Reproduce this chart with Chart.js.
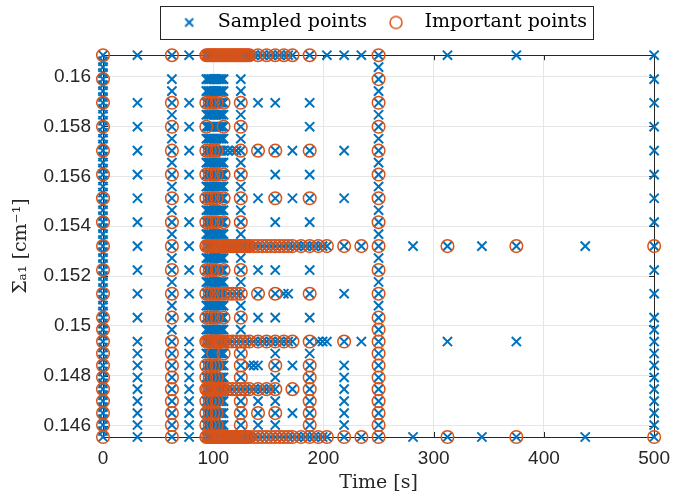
<!DOCTYPE html>
<html>
<head>
<meta charset="utf-8">
<script src="https://cdn.jsdelivr.net/npm/chart.js@4.4.1/dist/chart.umd.min.js"></script>
<style>
  html, body { margin: 0; padding: 0; background: #fff; }
</style>
</head>
<body>
<canvas id="chart" width="680" height="502"></canvas>
<script>
// grid rows of the parameter (fine levels, index k = 0..32)
const yLevels = [0.14554, 0.14602, 0.14650, 0.14698, 0.14746, 0.14793, 0.14841, 0.14889, 0.14937, 0.14985,
  0.15033, 0.15081, 0.15129, 0.15176, 0.15224, 0.15272, 0.15320, 0.15368, 0.15416, 0.15464,
  0.15512, 0.15559, 0.15607, 0.15655, 0.15703, 0.15751, 0.15799, 0.15847, 0.15895, 0.15942,
  0.15990, 0.16038, 0.16086];
// extra levels sampled only at t = 0
const yHalf = [0.14578, 0.14626, 0.14674, 0.14722, 0.14769, 0.14817, 0.14865, 0.14913, 0.14961, 0.15009,
  0.15057, 0.15105, 0.15152, 0.15200, 0.15248, 0.15296, 0.15344, 0.15392, 0.15440, 0.15488,
  0.15535, 0.15583, 0.15631, 0.15679, 0.15727, 0.15775, 0.15823, 0.15871, 0.15918, 0.15966,
  0.16014, 0.16062];

const xTicks = [0, 100, 200, 300, 400, 500];
const yTicks = [0.146, 0.148, 0.15, 0.152, 0.154, 0.156, 0.158, 0.16];

// time columns sampled on (almost) every row
const denseCols = [93.75, 95.3125, 96.875, 98.4375, 100, 101.5625, 103.125, 104.6875, 106.25, 107.8125];
const lineCols = [0, 62.5, ...denseCols, 109.375, 125, 250];
const gapRows = [31];
const sideCols = [31.25, 78.125];
const sideRows = [0, 1, 2, 3, 4, 5, 6, 7, 8, 10, 12, 14, 16, 18, 20, 22, 24, 26, 28, 32];
const edgeCol = 500;
const edgeRows = [0, 1, 2, 3, 4, 5, 6, 7, 8, 9, 10, 12, 14, 16, 18, 20, 22, 24, 26, 28, 30, 32];

// pieces of rows
const D4 = [93.75, 96.875, 100, 103.125];
const fineD = [93.75, 95.3125, 96.875, 98.4375, 100, 101.5625, 103.125, 104.6875, 106.25, 107.8125, 109.375];
const fineRun = [...fineD, 110.9375, 112.5, 114.0625, 115.625, 117.1875, 118.75, 120.3125, 121.875,
  123.4375, 125, 126.5625, 128.125, 129.6875, 131.25, 132.8125];
const midRun = [113.28125, 117.1875, 121.09375, 125, 128.90625, 132.8125];
const coarseRun = [140.625, 148.4375, 156.25, 164.0625, 171.875];
const coarseGaps = [136.71875, 144.53125, 152.34375, 160.15625, 167.96875];

const longImportant = [0, 62.5, ...fineRun, 136.71875, 140.625, 144.53125, 148.4375, 152.34375, 156.25,
  160.15625, 164.0625, 167.96875, 171.875, 179.6875, 187.5, 195.3125, 203.125, 218.75, 234.375, 250,
  312.5, 375, 500];
const longSampled = [175.78125, 183.59375, 191.40625, 199.21875, 281.25, 343.75, 437.5];

// important (circled) times per row
const importantByRow = [
  longImportant,                                                        // 0
  [0, 62.5, ...D4, 125, 187.5, 250],                                    // 1
  [0, 62.5, ...D4, 125, 140.625, 156.25, 187.5, 250],                   // 2
  [0, 62.5, ...D4, 125, 187.5, 250],                                    // 3
  [0, 62.5, ...fineD, ...midRun, 140.625, 148.4375, 156.25, 171.875, 187.5, 250], // 4
  [0, 62.5, ...D4, 125, 187.5, 250],                                    // 5
  [0, 62.5, ...D4, 125, 156.25, 187.5, 250],                            // 6
  [0, 62.5, 100, 109.375, 125, 250],                                    // 7
  [0, 62.5, ...fineD, ...midRun, ...coarseRun, 187.5, 218.75, 250],     // 8
  [0, 250],                                                             // 9
  [0, 62.5, ...D4, 109.375, 125, 250],                                  // 10
  [],                                                                   // 11
  [0, 62.5, ...D4, 106.25, 109.375, 113.28125, 117.1875, 121.09375, 125, 140.625, 156.25, 187.5, 250], // 12
  [],                                                                   // 13
  [0, 62.5, ...D4, 109.375, 125, 250],                                  // 14
  [],                                                                   // 15
  longImportant,                                                        // 16
  [],                                                                   // 17
  [0, 62.5, ...D4, 109.375, 125, 250],                                  // 18
  [],                                                                   // 19
  [0, 62.5, ...D4, 109.375, 125, 156.25, 187.5, 250],                   // 20
  [],                                                                   // 21
  [0, 62.5, ...D4, 109.375, 125, 250],                                  // 22
  [],                                                                   // 23
  [0, 62.5, ...D4, 125, 140.625, 156.25, 187.5, 250],                   // 24
  [],                                                                   // 25
  [0, 62.5, 93.75, 109.375, 125, 250],                                  // 26
  [],                                                                   // 27
  [0, 62.5, ...D4, 109.375, 125, 250],                                  // 28
  [],                                                                   // 29
  [0, 250],                                                             // 30
  [],                                                                   // 31
  [0, 62.5, ...fineRun, ...coarseRun, 187.5, 250]                       // 32
];

// other sampled times per row (besides the columns above)
const sampledByRow = [
  longSampled,                                        // 0
  [140.625, 156.25, 218.75],                          // 1
  [171.875, 218.75],                                  // 2
  [140.625, 156.25, 218.75],                          // 3
  [136.71875, 144.53125, 152.34375, 218.75],          // 4
  [156.25, 218.75],                                   // 5
  [132.8125, 136.71875, 140.625, 171.875, 218.75],    // 6
  [156.25, 187.5],                                    // 7
  [...coarseGaps, 195.3125, 199.21875, 203.125, 234.375, 312.5, 375], // 8
  [],                                                 // 9
  [140.625, 156.25, 187.5],                           // 10
  [],                                                 // 11
  [164.0625, 167.96875, 218.75],                      // 12
  [],                                                 // 13
  [140.625, 156.25, 187.5],                           // 14
  [],                                                 // 15
  longSampled,                                        // 16
  [],                                                 // 17
  [156.25, 187.5],                                    // 18
  [],                                                 // 19
  [140.625, 171.875, 218.75],                         // 20
  [],                                                 // 21
  [156.25, 187.5],                                    // 22
  [],                                                 // 23
  [113.28125, 117.1875, 121.09375, 171.875, 218.75],  // 24
  [],                                                 // 25
  [187.5],                                            // 26
  [],                                                 // 27
  [140.625, 156.25, 187.5],                           // 28
  [],                                                 // 29
  [],                                                 // 30
  [0, 250],                                           // 31
  [...coarseGaps, 203.125, 218.75, 234.375, 312.5, 375] // 32
];

const blue = '#0072BD';
const orange = '#D95319';

const sampled = [];
const important = [];
for (let k = 0; k < yLevels.length; k++) {
    const xs = new Set();
    if (!gapRows.includes(k)) lineCols.forEach(x => xs.add(x));
    if (sideRows.includes(k)) sideCols.forEach(x => xs.add(x));
    if (edgeRows.includes(k)) xs.add(edgeCol);
    sampledByRow[k].forEach(x => xs.add(x));
    importantByRow[k].forEach(x => xs.add(x));
    xs.forEach(x => sampled.push({x: x, y: yLevels[k]}));
    importantByRow[k].forEach(x => important.push({x: x, y: yLevels[k]}));
}
yHalf.forEach(y => sampled.push({x: 0, y: y}));

// legend marks
function makeIcon(draw) {
    const c = document.createElement('canvas');
    c.width = 18; c.height = 18;
    draw(c.getContext('2d'));
    return c;
}
const crossIcon = makeIcon(g => {
    g.strokeStyle = blue; g.lineWidth = 2;
    g.beginPath();
    g.moveTo(5, 5); g.lineTo(13, 13);
    g.moveTo(13, 5); g.lineTo(5, 13);
    g.stroke();
});
const circleIcon = makeIcon(g => {
    g.strokeStyle = orange; g.lineWidth = 1.5;
    g.beginPath();
    g.arc(9, 9, 6, 0, Math.PI * 2);
    g.stroke();
});
const icons = [crossIcon, circleIcon];

const axesBox = {
    id: 'axesBox',
    beforeDatasetsDraw(chart) {
        const {ctx, chartArea: a, scales: {x, y}} = chart;
        ctx.save();
        ctx.strokeStyle = '#262626';
        ctx.lineWidth = 1;
        ctx.strokeRect(Math.round(a.left) + 0.5, Math.round(a.top) + 0.5,
            Math.round(a.right - a.left), Math.round(a.bottom - a.top));
        ctx.beginPath();
        xTicks.forEach(v => {
            const px = Math.round(x.getPixelForValue(v)) + 0.5;
            ctx.moveTo(px, a.bottom); ctx.lineTo(px, a.bottom - 5);
            ctx.moveTo(px, a.top); ctx.lineTo(px, a.top + 5);
        });
        yTicks.forEach(v => {
            const py = Math.round(y.getPixelForValue(v)) + 0.5;
            ctx.moveTo(a.left, py); ctx.lineTo(a.left + 5, py);
            ctx.moveTo(a.right, py); ctx.lineTo(a.right - 5, py);
        });
        ctx.stroke();
        ctx.restore();
    },
    afterDraw(chart) {
        const boxes = chart.legend.legendHitBoxes;
        if (!boxes || !boxes.length) return;
        const first = boxes[0], last = boxes[boxes.length - 1];
        const ctx = chart.ctx;
        ctx.save();
        ctx.strokeStyle = '#262626';
        ctx.lineWidth = 1;
        const left = Math.round(first.left - 10) + 0.5;
        const right = Math.round(last.left + last.width + 6) + 0.5;
        const top = Math.round(first.top - 7) + 0.5;
        const bottom = Math.round(first.top + first.height + 7) + 0.5;
        ctx.strokeRect(left, top, right - left, bottom - top);
        ctx.restore();
    }
};

new Chart(document.getElementById('chart'), {
    type: 'scatter',
    data: {
        datasets: [{
            label: 'Sampled points',
            data: sampled,
            order: 1,
            pointStyle: 'crossRot',
            pointRadius: 6.5,
            pointBorderWidth: 2,
            pointBorderColor: blue,
            pointBackgroundColor: blue,
            clip: false
        }, {
            label: 'Important points',
            data: important,
            order: 0,
            pointStyle: 'circle',
            pointRadius: 6.3,
            pointBorderWidth: 1.5,
            pointBorderColor: orange,
            pointBackgroundColor: 'rgba(0,0,0,0)',
            clip: false
        }]
    },
    options: {
        responsive: false,
        animation: false,
        devicePixelRatio: 1,
        events: [],
        layout: { padding: { left: 0, right: 20, top: 3, bottom: 0 } },
        plugins: {
            tooltip: { enabled: false },
            // empty spacer between the legend and the axes
            title: {
                display: true,
                text: '',
                weight: 500,
                padding: 0,
                font: { size: 11 }
            },
            legend: {
                position: 'top',
                fullSize: false,
                weight: 3000,
                labels: {
                    usePointStyle: true,
                    pointStyleWidth: 38,
                    padding: 10,
                    color: '#000',
                    font: { family: 'DejaVu Serif', size: 19 },
                    sort: (a, b) => a.datasetIndex - b.datasetIndex,
                    generateLabels: function (chart) {
                        const items = Chart.defaults.plugins.legend.labels.generateLabels(chart);
                        items.forEach(it => { it.pointStyle = icons[it.datasetIndex]; });
                        return items;
                    }
                }
            }
        },
        scales: {
            x: {
                type: 'linear',
                min: 0,
                max: 500,
                afterBuildTicks: s => { s.ticks = xTicks.map(v => ({value: v})); },
                afterFit: s => { s.height = 65; },
                grid: { color: '#e6e6e6', drawTicks: false },
                border: { display: false },
                ticks: {
                    padding: 10,
                    color: '#262626',
                    font: { family: 'Liberation Sans', size: 19 }
                },
                title: {
                    display: true,
                    text: 'Time [s]',
                    color: '#262626',
                    font: { family: 'DejaVu Serif', size: 19 },
                    padding: { top: 0, bottom: 8 }
                }
            },
            y: {
                type: 'linear',
                min: yLevels[0],
                max: yLevels[yLevels.length - 1],
                afterBuildTicks: s => { s.ticks = yTicks.map(v => ({value: v})); },
                afterFit: s => { s.width = 103; },
                grid: { color: '#e6e6e6', drawTicks: false },
                border: { display: false },
                ticks: {
                    padding: 12,
                    color: '#262626',
                    font: { family: 'Liberation Sans', size: 19 },
                    callback: v => String(+v.toFixed(3))
                },
                title: {
                    display: true,
                    text: 'Σₐ₁ [cm⁻¹]',
                    color: '#262626',
                    font: { family: 'DejaVu Serif', size: 19 },
                    padding: { top: 10, bottom: 0 }
                }
            }
        }
    },
    plugins: [axesBox]
});
</script>
</body>
</html>
